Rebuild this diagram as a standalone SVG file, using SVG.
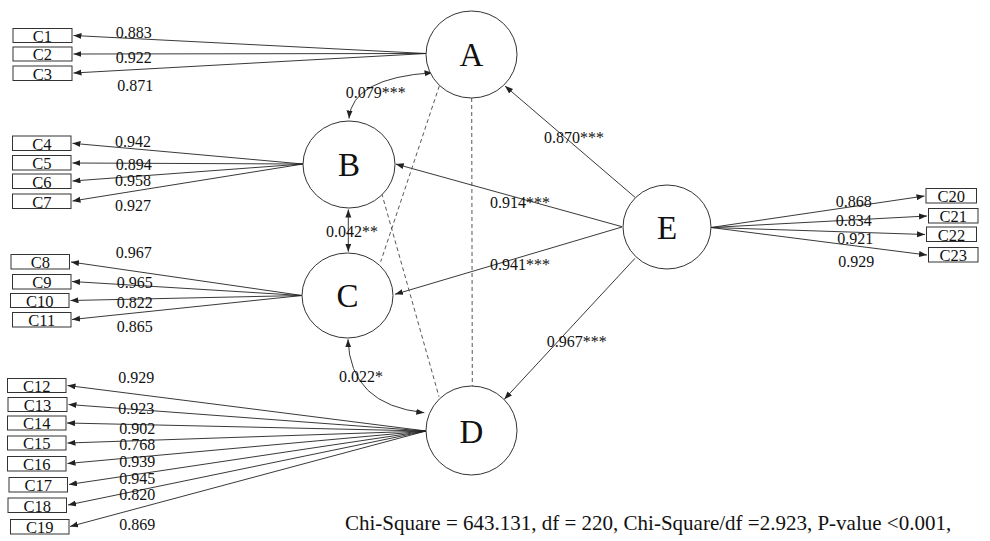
<svg xmlns="http://www.w3.org/2000/svg" width="990" height="541" viewBox="0 0 990 541">
  <style>
    text { font-family: "Liberation Serif", "Times New Roman", serif; fill: #111; }
    .lat { fill: #fff; stroke: #333; stroke-width: 1; }
    .latname { font-size: 33px; text-anchor: middle; }
    .obs { fill: #fff; stroke: #333; stroke-width: 1; }
    .obsname { font-size: 16.5px; text-anchor: middle; }
    .val { font-size: 16px; }
    .path { fill: none; stroke: #222; stroke-width: 0.9; marker-end: url(#tip); }
    .cov { fill: none; stroke: #222; stroke-width: 0.9; marker-start: url(#tip); marker-end: url(#tip); }
    .corr { fill: none; stroke: #444; stroke-width: 0.9; stroke-dasharray: 4 3; }
    .fit { font-size: 21px; }
  </style>
  <defs>
    <marker id="tip" markerUnits="userSpaceOnUse" markerWidth="9" markerHeight="7" refX="8" refY="3" orient="auto-start-reverse">
      <path d="M0,0 L8,3 L0,6 z" fill="#222"/>
    </marker>
  </defs>

  <!-- connectors -->
  <g id="connectors">
    <!-- A loadings -->
    <line class="path" x1="426" y1="53.5" x2="73.5" y2="35.5"/>
    <line class="path" x1="426" y1="53.5" x2="73.5" y2="54"/>
    <line class="path" x1="426" y1="53.5" x2="73.5" y2="73"/>
    <!-- B loadings -->
    <line class="path" x1="303" y1="164" x2="72.5" y2="143.3"/>
    <line class="path" x1="303" y1="164" x2="72.5" y2="163"/>
    <line class="path" x1="303" y1="164" x2="72.5" y2="181"/>
    <line class="path" x1="303" y1="164" x2="72.5" y2="201"/>
    <!-- C loadings -->
    <line class="path" x1="302" y1="295.5" x2="71" y2="262"/>
    <line class="path" x1="302" y1="295.5" x2="72" y2="281.5"/>
    <line class="path" x1="302" y1="295.5" x2="70.5" y2="300.5"/>
    <line class="path" x1="302" y1="295.5" x2="72" y2="319.5"/>
    <!-- D loadings -->
    <line class="path" x1="426" y1="431" x2="67.5" y2="385.5"/>
    <line class="path" x1="426" y1="431" x2="68.5" y2="404.5"/>
    <line class="path" x1="426" y1="431" x2="67" y2="423"/>
    <line class="path" x1="426" y1="431" x2="67.5" y2="443"/>
    <line class="path" x1="426" y1="431" x2="67.5" y2="463.5"/>
    <line class="path" x1="426" y1="431" x2="69" y2="484.5"/>
    <line class="path" x1="426" y1="431" x2="68" y2="505"/>
    <line class="path" x1="426" y1="431" x2="70" y2="526.5"/>
    <!-- E loadings -->
    <line class="path" x1="711" y1="227.5" x2="924.5" y2="196"/>
    <line class="path" x1="711" y1="227.5" x2="927" y2="216"/>
    <line class="path" x1="711" y1="227.5" x2="925" y2="234.5"/>
    <line class="path" x1="711" y1="227.5" x2="927" y2="255"/>
    <!-- structural paths from E -->
    <line class="path" x1="635" y1="197.3" x2="505" y2="86"/>
    <line class="path" x1="622" y1="226.7" x2="395.7" y2="164"/>
    <line class="path" x1="622" y1="227" x2="395" y2="294.3"/>
    <line class="path" x1="635" y1="258.3" x2="504.3" y2="399.3"/>
    <!-- covariances -->
    <path class="cov" d="M349,118.5 Q352,78 432.5,72.7"/>
    <line class="cov" x1="348.3" y1="209.5" x2="348.3" y2="251.7"/>
    <path class="cov" d="M348,339.3 Q350,405 424.3,412.7"/>
    <!-- correlations (dashed) -->
    <line class="corr" x1="439.3" y1="86" x2="380.7" y2="261.7"/>
    <line class="corr" x1="471.7" y1="98" x2="472.3" y2="386"/>
    <line class="corr" x1="381.7" y1="193.3" x2="439" y2="396.7"/>
  </g>

  <!-- latent factors -->
  <g id="A"><ellipse class="lat" cx="471.5" cy="54.5" rx="45.5" ry="43.5"/><text class="latname" x="471.5" y="66">A</text></g>
  <g id="B"><ellipse class="lat" cx="349" cy="164.5" rx="46" ry="43.5"/><text class="latname" x="349" y="176">B</text></g>
  <g id="C"><ellipse class="lat" cx="347.5" cy="295.5" rx="45.5" ry="42.5"/><text class="latname" x="347.5" y="306.7">C</text></g>
  <g id="D"><ellipse class="lat" cx="471.5" cy="430.5" rx="45.5" ry="44.5"/><text class="latname" x="471.5" y="443">D</text></g>
  <g id="E"><ellipse class="lat" cx="667" cy="227" rx="44" ry="42"/><text class="latname" x="667" y="239">E</text></g>

  <!-- observed indicators -->
  <g id="C1"><rect class="obs" x="13" y="28.5" width="59" height="14"/><text class="obsname" x="42.5" y="41.5">C1</text></g>
  <g id="C2"><rect class="obs" x="13" y="47" width="59" height="14"/><text class="obsname" x="42.5" y="60">C2</text></g>
  <g id="C3"><rect class="obs" x="13" y="66" width="59" height="14.5"/><text class="obsname" x="42.5" y="79.5">C3</text></g>
  <g id="C4"><rect class="obs" x="12.5" y="136" width="58.5" height="14.5"/><text class="obsname" x="41.8" y="149.5">C4</text></g>
  <g id="C5"><rect class="obs" x="12.5" y="155.5" width="58.5" height="14.5"/><text class="obsname" x="41.8" y="169">C5</text></g>
  <g id="C6"><rect class="obs" x="12.5" y="174" width="58.5" height="14.5"/><text class="obsname" x="41.8" y="187.5">C6</text></g>
  <g id="C7"><rect class="obs" x="12.5" y="194" width="58.5" height="14.5"/><text class="obsname" x="41.8" y="207.5">C7</text></g>
  <g id="C8"><rect class="obs" x="11" y="254.5" width="58.5" height="14.5"/><text class="obsname" x="40.3" y="268">C8</text></g>
  <g id="C9"><rect class="obs" x="12.5" y="274.5" width="58.5" height="14.5"/><text class="obsname" x="41.8" y="288">C9</text></g>
  <g id="C10"><rect class="obs" x="10.5" y="293.5" width="58.5" height="14"/><text class="obsname" x="39.8" y="306.5">C10</text></g>
  <g id="C11"><rect class="obs" x="12.5" y="312.5" width="58.5" height="14.5"/><text class="obsname" x="41.8" y="326">C11</text></g>
  <g id="C12"><rect class="obs" x="7.5" y="378.5" width="58.5" height="14"/><text class="obsname" x="36.8" y="391.5">C12</text></g>
  <g id="C13"><rect class="obs" x="8" y="397.5" width="59" height="14"/><text class="obsname" x="37.5" y="410.5">C13</text></g>
  <g id="C14"><rect class="obs" x="7.5" y="416" width="58.5" height="14"/><text class="obsname" x="36.8" y="429">C14</text></g>
  <g id="C15"><rect class="obs" x="7.5" y="436" width="58.5" height="14"/><text class="obsname" x="36.8" y="449">C15</text></g>
  <g id="C16"><rect class="obs" x="7.5" y="456.5" width="58.5" height="14.5"/><text class="obsname" x="36.8" y="470">C16</text></g>
  <g id="C17"><rect class="obs" x="9" y="477.5" width="58.5" height="14.5"/><text class="obsname" x="38.3" y="491">C17</text></g>
  <g id="C18"><rect class="obs" x="8" y="498" width="58.5" height="14.5"/><text class="obsname" x="37.3" y="511.5">C18</text></g>
  <g id="C19"><rect class="obs" x="10.5" y="519.5" width="58.5" height="14.5"/><text class="obsname" x="39.8" y="533">C19</text></g>
  <g id="C20"><rect class="obs" x="926" y="188.5" width="50.5" height="14.5"/><text class="obsname" x="951.3" y="202">C20</text></g>
  <g id="C21"><rect class="obs" x="928.5" y="208.5" width="49.5" height="14.5"/><text class="obsname" x="953.3" y="222">C21</text></g>
  <g id="C22"><rect class="obs" x="926.5" y="227" width="50" height="14.5"/><text class="obsname" x="951.5" y="240.5">C22</text></g>
  <g id="C23"><rect class="obs" x="928.5" y="247.5" width="49.5" height="14.5"/><text class="obsname" x="953.3" y="261">C23</text></g>

  <!-- coefficient labels -->
  <g id="labels">
    <text class="val" x="115.7" y="37.7">0.883</text>
    <text class="val" x="115.7" y="63.3">0.922</text>
    <text class="val" x="117.3" y="91">0.871</text>
    <text class="val" x="345.7" y="98.3">0.079***</text>
    <text class="val" x="115" y="147">0.942</text>
    <text class="val" x="115.7" y="170">0.894</text>
    <text class="val" x="115" y="185.7">0.958</text>
    <text class="val" x="115" y="210.7">0.927</text>
    <text class="val" x="326" y="237.3">0.042**</text>
    <text class="val" x="115.7" y="258.3">0.967</text>
    <text class="val" x="116.7" y="288.3">0.965</text>
    <text class="val" x="116.7" y="307.7">0.822</text>
    <text class="val" x="116.7" y="331.7">0.865</text>
    <text class="val" x="118.3" y="383.3">0.929</text>
    <text class="val" x="118.3" y="414">0.923</text>
    <text class="val" x="119.3" y="433.5">0.902</text>
    <text class="val" x="119.3" y="449.5">0.768</text>
    <text class="val" x="119.3" y="466.7">0.939</text>
    <text class="val" x="119.3" y="484">0.945</text>
    <text class="val" x="119.3" y="499.8">0.820</text>
    <text class="val" x="119.3" y="530">0.869</text>
    <text class="val" x="339" y="382.3">0.022*</text>
    <text class="val" x="544" y="143.3">0.870***</text>
    <text class="val" x="490" y="208.3">0.914***</text>
    <text class="val" x="490" y="270">0.941***</text>
    <text class="val" x="546.7" y="346.7">0.967***</text>
    <text class="val" x="835.7" y="206.7">0.868</text>
    <text class="val" x="835.7" y="226">0.834</text>
    <text class="val" x="837.3" y="244">0.921</text>
    <text class="val" x="838.3" y="266.7">0.929</text>
  </g>

  <!-- model fit summary -->
  <text class="fit" x="345" y="530">Chi-Square = 643.131, df = 220, Chi-Square/df =2.923, P-value &lt;0.001,</text>
</svg>
